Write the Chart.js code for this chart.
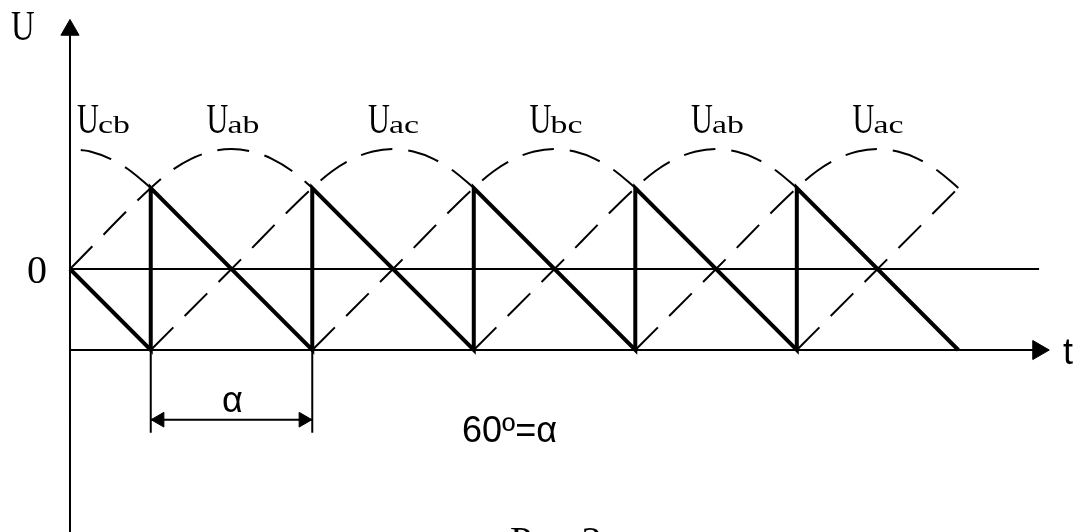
<!DOCTYPE html>
<html>
<head>
<meta charset="utf-8">
<script src="https://cdn.jsdelivr.net/npm/chart.js@4.4.0/dist/chart.umd.min.js"></script>
<style>
    html, body { margin: 0; padding: 0; background: #fff; }
    #wrap { width: 1087px; height: 532px; position: relative; }
</style>
</head>
<body>
<div id="wrap"><canvas id="chart"></canvas></div>
<script>
// Рис.3 - rectified voltage, alpha = 60 deg
// x: electrical degrees from the U axis, y: relative voltage (sawtooth swings -0.5..0.5)

// moments of commutation (vertical jumps of the solid line)
const jumpAngles = [30, 90, 150, 210, 270];
const sawStart = { x: 0, y: 0 };
const sawEnd = { x: 330, y: -0.5 };
const sawHigh = 0.5;
const sawLow = -0.5;

// dashed rising parts of the phase voltages: start point -> top at the next jump
const riseFrom = [[0, 0], [30, -0.5], [90, -0.5], [150, -0.5], [210, -0.5], [270, -0.5]];
const riseTo = [30, 90, 150, 210, 270, 330];

// dashed tops of the phase voltages (one after each rise except the last)
const arcCenters = [60, 120, 180, 240, 300];
const arcOffsets = [7.5, 15, 22.5, 30];
const arcHeights = [0.74, 0.725, 0.68, 0.605, 0.5];   // centre, then outwards
// first top (Ucb) only shows its falling half
const firstArcX = [4, 7.5, 15, 22.5, 30];
const firstArcY = [0.735, 0.725, 0.68, 0.605, 0.5];

// labels of the tops (U + subscript)
const arcLabelCenters = [0, 60, 120, 180, 240, 300];
const arcSubs = ['cb', 'ab', 'ac', 'bc', 'ab', 'ac'];

// axes and the alpha dimension
const uAxis = [-1.7, 1.45];
const zeroLine = [0, 360];
const tAxis = [0, 358, -0.5];
const dimAngles = [30, 90];
const dimTickEnd = -1.01;
const dimLevel = -0.93;

// ---- build datasets ----
const sawData = [sawStart];
jumpAngles.forEach(a => {
    sawData.push({ x: a, y: sawLow });
    sawData.push({ x: a, y: sawHigh });
});
sawData.push(sawEnd);

const dashData = [];
firstArcX.forEach((x, i) => dashData.push({ x: x, y: firstArcY[i] }));
dashData.push({ x: 30, y: null });
riseFrom.forEach((p, i) => {
    dashData.push({ x: p[0], y: p[1] });
    if (p[1] < 0) dashData.push({ x: (p[0] + riseTo[i]) / 2, y: 0 });
    dashData.push({ x: riseTo[i], y: sawHigh });
    const c = arcCenters[i];
    if (c !== undefined) {
        // rising half of the top, then falling half
        for (let k = arcOffsets.length - 2; k >= 0; k--) {
            dashData.push({ x: c - arcOffsets[k], y: arcHeights[k + 1] });
        }
        dashData.push({ x: c, y: arcHeights[0] });
        arcOffsets.forEach((o, k) => dashData.push({ x: c + o, y: arcHeights[k + 1] }));
    }
    dashData.push({ x: riseTo[i] + 60, y: null });
});

const thinData = [
    { x: 0, y: uAxis[0] }, { x: 0, y: uAxis[1] }, { x: 0, y: null },
    { x: zeroLine[0], y: 0 }, { x: zeroLine[1], y: 0 }, { x: zeroLine[1], y: null },
    { x: tAxis[0], y: tAxis[2] }, { x: tAxis[1], y: tAxis[2] }, { x: tAxis[1], y: null },
    { x: dimAngles[0], y: sawLow }, { x: dimAngles[0], y: dimTickEnd }, { x: dimAngles[0], y: null },
    { x: dimAngles[1], y: sawLow }, { x: dimAngles[1], y: dimTickEnd }, { x: dimAngles[1], y: null },
    { x: dimAngles[0], y: dimLevel }, { x: dimAngles[1], y: dimLevel }
];

// arrow heads as rotated triangle points
const arrowData = [
    { x: 0, y: 1.475 },
    { x: 359.7, y: -0.5 },
    { x: 33.3, y: dimLevel },
    { x: 86.7, y: dimLevel }
];

function drawText(ctx, text, x, y, font, align, sx) {
    ctx.save();
    ctx.translate(x, y);
    ctx.scale(sx, 1);
    ctx.font = font;
    ctx.textAlign = align;
    ctx.textBaseline = 'alphabetic';
    ctx.fillStyle = '#000';
    ctx.fillText(text, 0, 0);
    ctx.restore();
}

const textPlugin = {
    id: 'figText',
    afterDraw(chart) {
        const ctx = chart.ctx;
        const xs = chart.scales.x;
        const serif = '"Liberation Serif", "Times New Roman", serif';
        const sans = '"Liberation Sans", Arial, sans-serif';
        const x0 = xs.getPixelForValue(0);

        drawText(ctx, 'U', 11, 40, '42px ' + serif, 'left', 0.78);
        drawText(ctx, '0', 27, 283, '40px ' + serif, 'left', 1);
        drawText(ctx, 't', 1063, 364, '36px ' + sans, 'left', 1);

        arcLabelCenters.forEach((c, i) => {
            const left = Math.max(xs.getPixelForValue(c) - 25, x0 + 7);
            drawText(ctx, 'U', left, 133, '42px ' + serif, 'left', 0.72);
            drawText(ctx, arcSubs[i], left + 21, 133, '26px ' + serif, 'left', 1.3);
        });

        const dimMid = (xs.getPixelForValue(dimAngles[0]) + xs.getPixelForValue(dimAngles[1])) / 2;
        drawText(ctx, 'α', dimMid + 1, 412, '36px ' + sans, 'center', 1);
        drawText(ctx, '60º=α', 462, 442, '36px ' + sans, 'left', 1);
        drawText(ctx, 'Рис.3', 510, 554, '40px ' + serif, 'left', 1);
    }
};

new Chart(document.getElementById('chart'), {
    type: 'line',
    data: {
        datasets: [
            {
                label: 'output',
                data: sawData,
                borderColor: '#000',
                borderWidth: 4,
                pointRadius: 0,
                tension: 0,
                fill: false
            },
            {
                label: 'phase',
                data: dashData,
                borderColor: '#000',
                borderWidth: 2,
                borderDash: [32, 16],
                pointRadius: 0,
                cubicInterpolationMode: 'monotone',
                spanGaps: false,
                fill: false
            },
            {
                label: 'axes',
                data: thinData,
                borderColor: '#000',
                borderWidth: 2,
                pointRadius: 0,
                tension: 0,
                spanGaps: false,
                fill: false
            },
            {
                label: 'arrows',
                data: arrowData,
                showLine: false,
                pointStyle: 'triangle',
                pointRadius: [10.5, 11, 8.5, 8.5],
                pointRotation: [0, 90, 270, 90],
                pointBackgroundColor: '#000',
                pointBorderColor: '#000',
                pointBorderWidth: 1
            }
        ]
    },
    options: {
        responsive: true,
        maintainAspectRatio: false,
        animation: false,
        events: [],
        layout: { padding: 0, autoPadding: false },
        plugins: {
            legend: { display: false },
            tooltip: { enabled: false }
        },
        scales: {
            x: { type: 'linear', min: -26, max: 377.8, display: false },
            y: { type: 'linear', min: -1.623, max: 1.66, display: false }
        }
    },
    plugins: [textPlugin]
});
</script>
</body>
</html>
